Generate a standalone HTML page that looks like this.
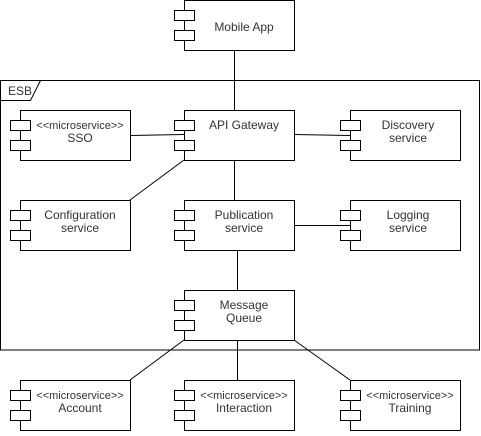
<!DOCTYPE html>
<html><head><style>
html,body{margin:0;padding:0;background:#fff;}
svg text{font-family:"Liberation Sans",Arial,sans-serif;font-size:12px;fill:#333;text-anchor:middle;}
</style></head><body>
<svg width="481" height="431" viewBox="0 0 481 431" xmlns="http://www.w3.org/2000/svg">
<g stroke="#000" fill="none" stroke-width="1">
<rect x="0.5" y="80.5" width="479" height="269.5" fill="#fff"/>
<path d="M0.5 100.5 H30.5 L40.5 80.5"/>
<line x1="234.5" y1="50" x2="234.5" y2="110"/>
<line x1="130" y1="135.5" x2="184" y2="134.5"/>
<line x1="294" y1="134.5" x2="350" y2="135.5"/>
<line x1="130" y1="200" x2="184" y2="160"/>
<line x1="234.5" y1="160" x2="234.5" y2="200"/>
<line x1="294" y1="225.5" x2="350" y2="225.5"/>
<line x1="237.5" y1="250" x2="237.5" y2="290"/>
<line x1="184" y1="340" x2="130" y2="380"/>
<line x1="237.5" y1="340" x2="237.5" y2="380"/>
<line x1="294" y1="340" x2="350" y2="380"/>
</g>
<text x="20" y="95" style="text-anchor:middle">ESB</text>
<g id="boxes" stroke="#000" fill="#fff">
<g transform="translate(184,0)"><rect x="0.5" y="0.5" width="110" height="50"/><rect x="-9.5" y="10.5" width="20" height="10"/><rect x="-9.5" y="30.5" width="20" height="10"/></g>
<g transform="translate(20,110)"><rect x="0.5" y="0.5" width="110" height="50"/><rect x="-9.5" y="10.5" width="20" height="10"/><rect x="-9.5" y="30.5" width="20" height="10"/></g>
<g transform="translate(184,110)"><rect x="0.5" y="0.5" width="110" height="50"/><rect x="-9.5" y="10.5" width="20" height="10"/><rect x="-9.5" y="30.5" width="20" height="10"/></g>
<g transform="translate(350,110)"><rect x="0.5" y="0.5" width="110" height="50"/><rect x="-9.5" y="10.5" width="20" height="10"/><rect x="-9.5" y="30.5" width="20" height="10"/></g>
<g transform="translate(20,200)"><rect x="0.5" y="0.5" width="110" height="50"/><rect x="-9.5" y="10.5" width="20" height="10"/><rect x="-9.5" y="30.5" width="20" height="10"/></g>
<g transform="translate(184,200)"><rect x="0.5" y="0.5" width="110" height="50"/><rect x="-9.5" y="10.5" width="20" height="10"/><rect x="-9.5" y="30.5" width="20" height="10"/></g>
<g transform="translate(350,200)"><rect x="0.5" y="0.5" width="110" height="50"/><rect x="-9.5" y="10.5" width="20" height="10"/><rect x="-9.5" y="30.5" width="20" height="10"/></g>
<g transform="translate(184,290)"><rect x="0.5" y="0.5" width="110" height="50"/><rect x="-9.5" y="10.5" width="20" height="10"/><rect x="-9.5" y="30.5" width="20" height="10"/></g>
<g transform="translate(20,380)"><rect x="0.5" y="0.5" width="110" height="50"/><rect x="-9.5" y="10.5" width="20" height="10"/><rect x="-9.5" y="30.5" width="20" height="10"/></g>
<g transform="translate(184,380)"><rect x="0.5" y="0.5" width="110" height="50"/><rect x="-9.5" y="10.5" width="20" height="10"/><rect x="-9.5" y="30.5" width="20" height="10"/></g>
<g transform="translate(350,380)"><rect x="0.5" y="0.5" width="110" height="50"/><rect x="-9.5" y="10.5" width="20" height="10"/><rect x="-9.5" y="30.5" width="20" height="10"/></g>
</g>
<text x="244" y="31">Mobile App</text>
<text x="80" y="129" style="font-size:11px">&lt;&lt;microservice&gt;&gt;</text>
<text x="80" y="142">SSO</text>
<text x="244" y="129">API Gateway</text>
<text x="408" y="129">Discovery</text>
<text x="408" y="142">service</text>
<text x="80" y="219">Configuration</text>
<text x="80" y="232">service</text>
<text x="244" y="219">Publication</text>
<text x="244" y="232">service</text>
<text x="408" y="219">Logging</text>
<text x="408" y="232">service</text>
<text x="244" y="309">Message</text>
<text x="244" y="322">Queue</text>
<text x="80" y="399" style="font-size:11px">&lt;&lt;microservice&gt;&gt;</text>
<text x="80" y="412">Account</text>
<text x="244" y="399" style="font-size:11px">&lt;&lt;microservice&gt;&gt;</text>
<text x="244" y="412">Interaction</text>
<text x="410" y="399" style="font-size:11px">&lt;&lt;microservice&gt;&gt;</text>
<text x="410" y="412">Training</text>
</svg>
</body></html>
